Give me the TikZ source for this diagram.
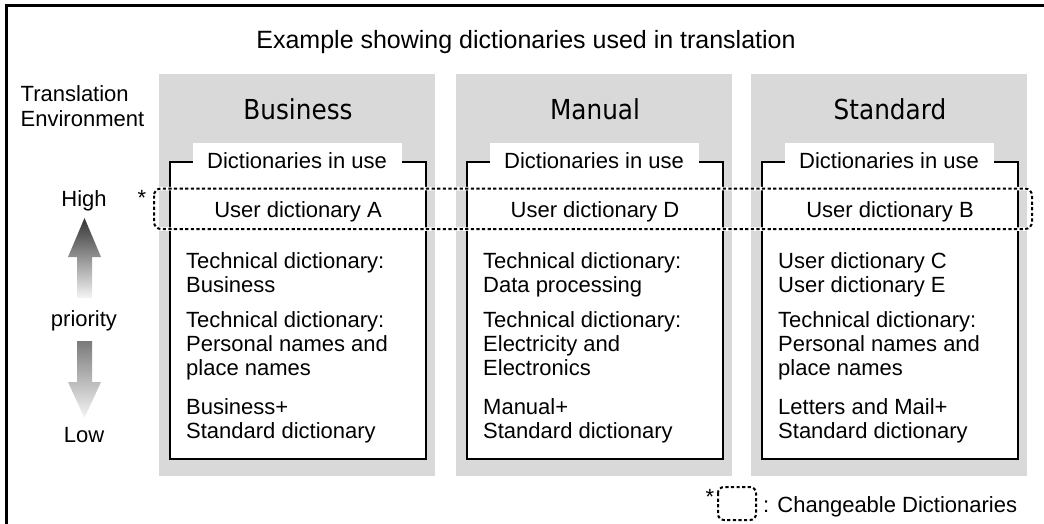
\documentclass[tikz,border=0pt]{standalone}
\usepackage{fontspec}
\setmainfont{Liberation Sans}
\newfontfamily\headfont[FakeStretch=0.9]{DejaVu Sans}
\definecolor{panelgray}{RGB}{217,217,217}
\tikzset{
  panel/.style={fill=panelgray, draw=none, minimum width=276pt, minimum height=402pt, inner sep=0},
  dictbox/.style={fill=white, draw=black, line width=1.3pt, minimum width=256pt, minimum height=297pt, inner sep=0},
  labelbox/.style={fill=white, draw=none, minimum width=209pt, minimum height=40pt, text height=16pt, text depth=5pt, inner sep=0, font=\fontsize{22}{24}\selectfont},
  headtext/.style={inner sep=0, anchor=base, font=\headfont\fontsize{27.5}{30}\selectfont},
  plain/.style={inner sep=0, anchor=base, font=\fontsize{22}{24}\selectfont},
  bodytext/.style={inner sep=0, anchor=base west, align=left, font=\fontsize{22}{24.3}\selectfont},
  whiteunder/.style={draw=white, line width=3.5pt},
  dotline/.style={draw=black, line width=2pt, dash pattern=on 3.2pt off 2.4pt},
}
% baselines given are those of the LAST line of each text block
\newcommand\dictcol[7]{%
  \node[panel] (#2panel) at (#1+138,275) {};
  \node[dictbox] (#2box) at (#1+139,310.5) {};
  \node[labelbox] (#2label) at (#1+138,163) {Dictionaries in use};
  \node[headtext] (#2head) at (#1+139,120) {#3};
  \node[plain] (#2user) at (#1+139,217) {#4};
  \node[bodytext] (#2ga) at (#1+27,292.8) {#5};
  \node[bodytext] (#2gb) at (#1+27,375.6) {#6};
  \node[bodytext] (#2gc) at (#1+27,438.8) {#7};
}
\begin{document}
\begin{tikzpicture}[x=1pt,y=-1pt]
\useasboundingbox (0,0) rectangle (1044,524);
\clip (0,0) rectangle (1044,524);
\draw[line width=3pt] (6,5.5) rectangle (1070,550);
\node[inner sep=0, anchor=base, font=\fontsize{25}{28}\selectfont] (title) at (526,49) {Example showing dictionaries used in translation};
\node[bodytext, font=\fontsize{22}{25}\selectfont] (env) at (20.5,127) {Translation\\Environment};
\dictcol{159}{B}{Business}{User dictionary A}{Technical dictionary:\\Business}{Technical dictionary:\\Personal names and\\place names}{Business+\\Standard dictionary}
\dictcol{456}{M}{Manual}{User dictionary D}{Technical dictionary:\\Data processing}{Technical dictionary:\\Electricity and\\Electronics}{Manual+\\Standard dictionary}
\dictcol{751}{S}{Standard}{User dictionary B}{User dictionary C\\User dictionary E}{Technical dictionary:\\Personal names and\\place names}{Letters and Mail+\\Standard dictionary}
% changeable row
\draw[whiteunder, rounded corners=7pt] (154,188.5) rectangle (1032,229);
\draw[dotline, rounded corners=7pt] (154,188.5) rectangle (1032,229);
\node[plain] (star) at (142,205) {*};
% priority
\node[plain] (high) at (84,206) {High};
\shade[top color=black!80, bottom color=black!4] (84.5,218) -- (101,257) -- (92,257) -- (92,298) -- (77,298) -- (77,257) -- (68,257) -- cycle;
\node[plain] (prio) at (84,326) {priority};
\shade[top color=black!52, bottom color=black!4] (77,341) -- (92,341) -- (92,382) -- (101,382) -- (84.5,418) -- (68,382) -- (77,382) -- cycle;
\node[plain] (low) at (84,442) {Low};
% legend
\draw[whiteunder, rounded corners=6pt] (718,487) rectangle (756,520);
\draw[dotline, rounded corners=6pt] (718,487) rectangle (756,520);
\node[plain] (lstar) at (710,504) {*};
\node[bodytext] (legend) at (763,512) {: Changeable Dictionaries};
\end{tikzpicture}
\end{document}
